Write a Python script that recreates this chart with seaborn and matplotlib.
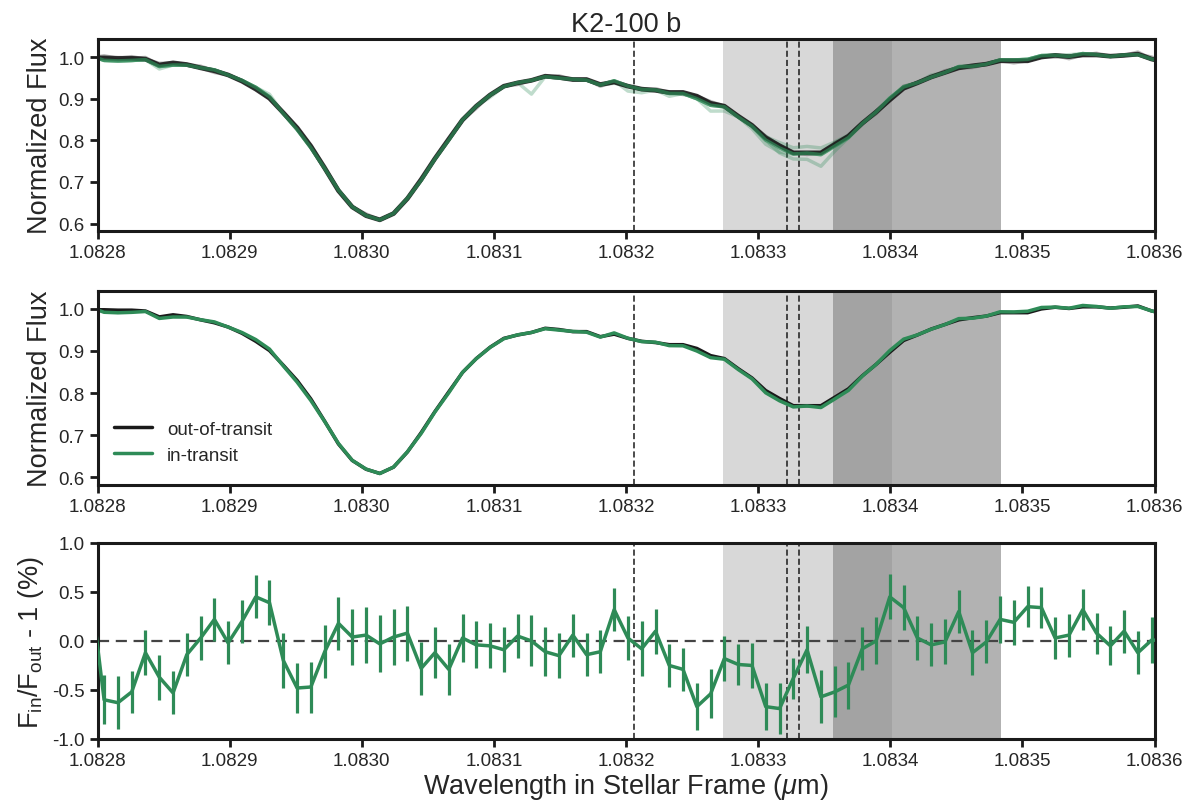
import numpy as np
import pandas as pd
import matplotlib
matplotlib.use("Agg")
import matplotlib.pyplot as plt
import seaborn as sns
from matplotlib.ticker import FormatStrFormatter, MultipleLocator

# wavelength grid (micron, stellar frame)
wave = [1.0827945, 1.0828049, 1.0828154, 1.0828258, 1.0828362, 1.0828467, 1.0828571,
        1.0828675, 1.0828780, 1.0828884, 1.0828988, 1.0829093, 1.0829197, 1.0829301,
        1.0829406, 1.0829510, 1.0829614, 1.0829719, 1.0829823, 1.0829927, 1.0830032,
        1.0830136, 1.0830240, 1.0830345, 1.0830449, 1.0830553, 1.0830658, 1.0830762,
        1.0830866, 1.0830971, 1.0831075, 1.0831179, 1.0831284, 1.0831388, 1.0831492,
        1.0831597, 1.0831701, 1.0831805, 1.0831910, 1.0832014, 1.0832118, 1.0832223,
        1.0832327, 1.0832431, 1.0832536, 1.0832640, 1.0832744, 1.0832849, 1.0832953,
        1.0833057, 1.0833162, 1.0833266, 1.0833370, 1.0833475, 1.0833579, 1.0833683,
        1.0833788, 1.0833892, 1.0833996, 1.0834101, 1.0834205, 1.0834309, 1.0834414,
        1.0834518, 1.0834622, 1.0834727, 1.0834831, 1.0834935, 1.0835040, 1.0835144,
        1.0835248, 1.0835353, 1.0835457, 1.0835561, 1.0835666, 1.0835770, 1.0835874,
        1.0835979, 1.0836083]

# mean out-of-transit spectrum
flux_out = [0.998, 0.998, 0.997, 0.997, 0.995, 0.981, 0.986, 0.982, 0.974, 0.967,
            0.957, 0.942, 0.923, 0.901, 0.866, 0.830, 0.786, 0.733, 0.679, 0.640,
            0.619, 0.609, 0.624, 0.660, 0.706, 0.756, 0.803, 0.849, 0.882, 0.909,
            0.930, 0.938, 0.944, 0.954, 0.951, 0.946, 0.946, 0.934, 0.940, 0.930,
            0.923, 0.920, 0.915, 0.915, 0.906, 0.889, 0.882, 0.858, 0.836, 0.806,
            0.787, 0.770, 0.770, 0.770, 0.790, 0.810, 0.841, 0.868, 0.897, 0.925,
            0.938, 0.952, 0.963, 0.974, 0.979, 0.983, 0.991, 0.991, 0.991, 1.000,
            1.004, 1.001, 1.005, 1.005, 1.002, 1.004, 1.007, 0.995, 0.988]

# in/out - 1 in percent, with errors
resid = [0.55, -0.60, -0.63, -0.52, -0.12, -0.37, -0.53, -0.14, 0.03, 0.22,
         -0.02, 0.20, 0.45, 0.39, -0.20, -0.48, -0.47, -0.11, 0.18, 0.04,
         0.06, -0.03, 0.04, 0.08, -0.28, -0.12, -0.29, 0.03, -0.04, -0.05,
         -0.09, 0.05, 0.00, -0.11, -0.15, 0.06, -0.14, -0.11, 0.32, 0.03,
         -0.08, 0.10, -0.25, -0.29, -0.67, -0.54, -0.18, -0.24, -0.25, -0.67,
         -0.69, -0.38, -0.09, -0.57, -0.52, -0.45, -0.08, 0.00, 0.45, 0.34,
         0.03, -0.04, -0.01, 0.30, -0.12, -0.01, 0.22, 0.19, 0.35, 0.34,
         0.03, 0.06, 0.32, 0.08, -0.05, 0.10, -0.12, 0.01, 0.00]
resid_err = [0.25, 0.25, 0.27, 0.21, 0.23, 0.23, 0.22, 0.22, 0.22, 0.22,
             0.22, 0.22, 0.22, 0.23, 0.28, 0.26, 0.26, 0.27, 0.27, 0.29,
             0.29, 0.29, 0.29, 0.28, 0.27, 0.26, 0.26, 0.24, 0.24, 0.23,
             0.23, 0.22, 0.26, 0.25, 0.23, 0.22, 0.22, 0.22, 0.22, 0.22,
             0.28, 0.23, 0.22, 0.22, 0.24, 0.25, 0.23, 0.21, 0.23, 0.24,
             0.26, 0.21, 0.24, 0.27, 0.26, 0.24, 0.22, 0.24, 0.23, 0.23,
             0.22, 0.22, 0.23, 0.22, 0.23, 0.22, 0.24, 0.23, 0.21, 0.21,
             0.21, 0.22, 0.21, 0.21, 0.20, 0.22, 0.22, 0.23, 0.22]

# individual exposures: deviations from the mean at given pixels
oot_exposures = [
    {0: 0.005, 3: 0.004, 5: -0.004, 11: 0.004, 27: -0.005, 36: -0.004, 44: 0.004,
     53: 0.004, 63: -0.004, 69: -0.004, 75: 0.005},
    {1: -0.004, 4: 0.004, 8: -0.004, 16: 0.004, 30: -0.004, 40: 0.004, 51: -0.004,
     58: 0.005, 66: -0.005, 72: 0.004},
    {2: 0.004, 7: 0.004, 19: 0.004, 33: 0.004, 42: -0.005, 48: 0.004, 56: -0.004,
     61: 0.004, 70: -0.005, 76: 0.005},
]
it_exposures = [
    {31: -0.033, 38: -0.012, 39: -0.008, 44: -0.014, 45: -0.010, 49: -0.012,
     50: -0.012, 51: -0.015, 52: -0.028, 53: -0.012},
    {48: 0.008, 49: 0.013, 50: 0.015, 51: 0.016, 52: 0.016, 53: 0.010, 54: 0.006},
    {4: -0.006, 12: 0.006, 28: -0.005, 37: -0.006, 41: -0.007, 47: -0.006,
     48: -0.010, 49: -0.010, 60: 0.005, 70: 0.004},
]

he_lines = [1.0832057, 1.0833217, 1.0833306]
span_light = (1.0832737, 1.0834014)
span_dark = (1.0833564, 1.0834841)

green = "#2e8b57"

sns.set_theme(style="ticks")
plt.rcParams["font.family"] = ["Liberation Sans", "DejaVu Sans"]
plt.rcParams["mathtext.fontset"] = "custom"
plt.rcParams["mathtext.rm"] = "Liberation Sans"
plt.rcParams["mathtext.it"] = "Liberation Sans:italic"

wave = np.array(wave)
flux_out = np.array(flux_out)
resid = np.array(resid)
resid_err = np.array(resid_err)
flux_in = flux_out * (1 + resid / 100.0)

fig = plt.figure(figsize=(11.89, 8.03), dpi=100)
ax1 = fig.add_axes([0.0821, 0.711, 0.8889, 0.239])
ax2 = fig.add_axes([0.0821, 0.395, 0.8889, 0.2416])
ax3 = fig.add_axes([0.0821, 0.0785, 0.8889, 0.2441])

for ax in (ax1, ax2, ax3):
    ax.axvspan(*span_light, color="gray", alpha=0.3, lw=0, zorder=0)
    ax.axvspan(*span_dark, color="gray", alpha=0.6, lw=0, zorder=0)
    for w in he_lines:
        ax.axvline(w, color="k", ls="--", lw=1.1, dashes=(4, 2), zorder=1)

# top: individual exposures
for dev in oot_exposures:
    f = flux_out.copy()
    for k, v in dev.items():
        f[k + 1] += v
    sns.lineplot(x=wave, y=f, ax=ax1, color="k", lw=2.5, alpha=0.3, sort=False, estimator=None)
for dev in it_exposures:
    f = flux_in.copy()
    for k, v in dev.items():
        f[k + 1] += v
    sns.lineplot(x=wave, y=f, ax=ax1, color=green, lw=2.5, alpha=0.3, sort=False, estimator=None)
sns.lineplot(x=wave, y=flux_out, ax=ax1, color="#1a1a1a", lw=3.4, alpha=0.85, sort=False, estimator=None)
sns.lineplot(x=wave, y=flux_in, ax=ax1, color=green, lw=2.6, alpha=0.7, sort=False, estimator=None)

# middle: means
sns.lineplot(x=wave, y=flux_out, ax=ax2, color="k", lw=2.5, sort=False, estimator=None, label="out-of-transit")
sns.lineplot(x=wave, y=flux_in, ax=ax2, color=green, lw=2.5, sort=False, estimator=None, label="in-transit")
ax2.legend(loc="lower left", frameon=False, fontsize=13.5, handlelength=2.0,
           bbox_to_anchor=(0.0, 0.02))

# bottom: ratio
ax3.axhline(0, color="#444444", ls="--", lw=1.6, dashes=(5, 3), zorder=1)
ax3.errorbar(wave, resid, yerr=resid_err, fmt="none", ecolor=green, elinewidth=2.3, capsize=0, zorder=3)
sns.lineplot(x=wave, y=resid, ax=ax3, color=green, lw=2.5, sort=False, estimator=None, zorder=4)

for ax in (ax1, ax2):
    ax.set_ylim(0.582, 1.043)
    ax.yaxis.set_major_locator(MultipleLocator(0.1))
    ax.yaxis.set_major_formatter(FormatStrFormatter("%.1f"))
    ax.set_ylabel("Normalized Flux", fontsize=19.5)
ax3.set_ylim(-1, 1)
ax3.yaxis.set_major_locator(MultipleLocator(0.5))
ax3.yaxis.set_major_formatter(FormatStrFormatter("%.1f"))
ax3.set_ylabel(r"F$_{\rm in}$/F$_{\rm out}$ - 1 (%)", fontsize=19.5)
ax3.set_xlabel(r"Wavelength in Stellar Frame ($\mu$m)", fontsize=19.5, labelpad=1)
ax1.set_title("K2-100 b", fontsize=19.5)

for ax in (ax1, ax2, ax3):
    ax.set_xlim(1.0828, 1.0836)
    ax.xaxis.set_major_locator(MultipleLocator(0.0001))
    ax.xaxis.set_major_formatter(FormatStrFormatter("%.4f"))
    ax.tick_params(axis="both", labelsize=13.5, length=6, width=2, direction="out", color="k")
    for s in ax.spines.values():
        s.set_linewidth(2.2)
        s.set_color("k")

fig.savefig("out.png", dpi=100)
